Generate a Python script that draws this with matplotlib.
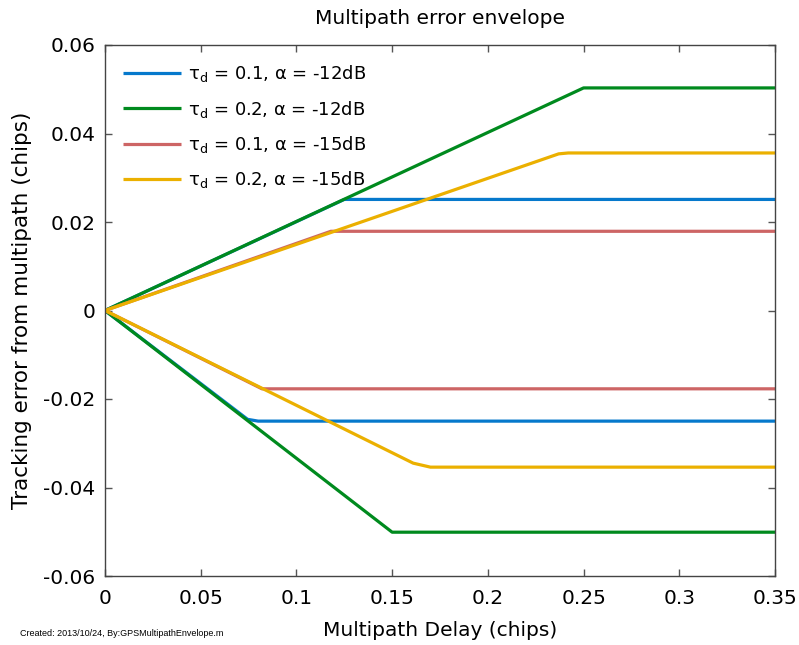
import matplotlib
matplotlib.use("Agg")
import matplotlib.pyplot as plt

# Multipath error envelope vertices (delay in chips, tracking error in chips)
labels = ["τ$_\\mathregular{d}$ = 0.1, α = -12dB",
          "τ$_\\mathregular{d}$ = 0.2, α = -12dB",
          "τ$_\\mathregular{d}$ = 0.1, α = -15dB",
          "τ$_\\mathregular{d}$ = 0.2, α = -15dB"]
colors = ["#0679CC", "#008A1E", "#CD6565", "#EBB000"]

blue_up_x = [0, 0.125, 0.35]
blue_up_y = [0, 0.0251, 0.0251]
blue_lo_x = [0, 0.0745, 0.080, 0.35]
blue_lo_y = [0, -0.0246, -0.0250, -0.0250]

green_up_x = [0, 0.250, 0.35]
green_up_y = [0, 0.0503, 0.0503]
green_lo_x = [0, 0.150, 0.35]
green_lo_y = [0, -0.0501, -0.0501]

red_up_x = [0, 0.118, 0.35]
red_up_y = [0, 0.0179, 0.0179]
red_lo_x = [0, 0.082, 0.35]
red_lo_y = [0, -0.0177, -0.0177]

yellow_up_x = [0, 0.237, 0.242, 0.35]
yellow_up_y = [0, 0.0354, 0.0356, 0.0356]
yellow_lo_x = [0, 0.161, 0.170, 0.35]
yellow_lo_y = [0, -0.0345, -0.0354, -0.0354]

series = [
    (blue_up_x, blue_up_y, blue_lo_x, blue_lo_y),
    (green_up_x, green_up_y, green_lo_x, green_lo_y),
    (red_up_x, red_up_y, red_lo_x, red_lo_y),
    (yellow_up_x, yellow_up_y, yellow_lo_x, yellow_lo_y),
]

xticks = [0, 0.05, 0.1, 0.15, 0.2, 0.25, 0.3, 0.35]
xticklabels = ["0", "0.05", "0.1", "0.15", "0.2", "0.25", "0.3", "0.35"]
yticks = [-0.06, -0.04, -0.02, 0, 0.02, 0.04, 0.06]
yticklabels = ["-0.06", "-0.04", "-0.02", "0", "0.02", "0.04", "0.06"]

fig = plt.figure(figsize=(7.99, 6.45), dpi=100)
ax = fig.add_axes([105 / 799, 1 - 576 / 645, 670 / 799, 531 / 645])

for (ux, uy, lx, ly), col, lab in zip(series, colors, labels):
    ax.plot(ux, uy, color=col, lw=2.3, label=lab, solid_capstyle="butt")
    ax.plot(lx, ly, color=col, lw=2.3, solid_capstyle="butt")

ax.set_xlim(0, 0.35)
ax.set_ylim(-0.06, 0.06)
ax.set_xticks(xticks)
ax.set_xticklabels(xticklabels)
ax.set_yticks(yticks)
ax.set_yticklabels(yticklabels)
ax.tick_params(direction="in", top=True, right=True, length=5, width=1,
               color="#555555", labelsize=14.5)
ax.tick_params(axis="x", pad=9)
ax.tick_params(axis="y", pad=7)
for s in ax.spines.values():
    s.set_color("#444444")
    s.set_linewidth(1)

ax.set_title("Multipath error envelope", fontsize=14.5, pad=15)
ax.set_xlabel("Multipath Delay (chips)", fontsize=14.5, labelpad=10)
ax.set_ylabel("Tracking error from multipath (chips)", fontsize=15.5, labelpad=8)

ax.legend(loc="upper left", frameon=False, fontsize=13, handlelength=3.2,
          handletextpad=0.4, labelspacing=0.8, borderaxespad=0.6)

fig.text(20 / 799, 1 - 633 / 645, "Created: 2013/10/24, By:GPSMultipathEnvelope.m",
         fontsize=6.5, family="Liberation Sans", va="center", ha="left")

fig.savefig("out.png", dpi=100)
